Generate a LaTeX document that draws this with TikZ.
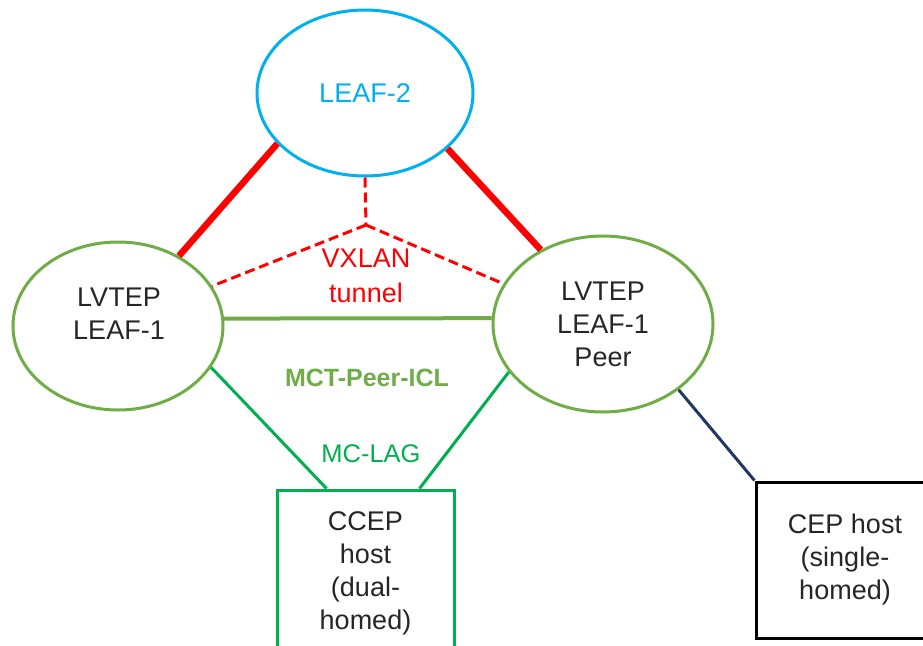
\documentclass[tikz,border=0pt]{standalone}
\usepackage{fontspec}
\setmainfont{Liberation Sans}
\usetikzlibrary{shapes.geometric}
\definecolor{leafblue}{HTML}{00B0F0}
\definecolor{leafgreen}{HTML}{70AD47}
\definecolor{lagreen}{HTML}{00B050}
\definecolor{navyline}{HTML}{1F3864}
\definecolor{txtgray}{HTML}{262626}
\begin{document}
\begin{tikzpicture}[x=1pt,y=-1pt,
  bigtext/.style={font=\fontsize{27}{33}\selectfont, align=center, text=txtgray},
  ell/.style={ellipse, draw=leafgreen, line width=3pt, inner sep=0pt, fill=white},
  hostbox/.style={rectangle, line width=3pt, inner sep=0pt, bigtext, fill=white},
  redthick/.style={draw=red, line width=6.5pt},
  reddash/.style={draw=red, line width=3pt, dash pattern=on 10pt off 5pt},
  icl/.style={draw=leafgreen, line width=4pt},
  lag/.style={draw=lagreen, line width=3pt},
  navy/.style={draw=navyline, line width=3pt}]
\useasboundingbox (0,0) rectangle (923,645);
\clip (0,0) rectangle (923,645);
\fill[white] (0,0) rectangle (923,645);
% nodes
\node[ell, draw=leafblue, minimum width=216, minimum height=166,
      font=\fontsize{27}{33}\selectfont, text=leafblue] (leaf2) at (365,93) {LEAF-2};
\node[ell, minimum width=210, minimum height=168] (leaf1) at (118,326) {};
\node[bigtext] (leaf1text) at (119,314) {LVTEP\\LEAF-1};
\node[ell, minimum width=220, minimum height=176, bigtext] (peer) at (603,324) {LVTEP\\LEAF-1\\Peer};
\node[hostbox, draw=lagreen, minimum width=177, minimum height=166] (ccep) at (365.5,573) {CCEP\\host\\(dual-\\homed)};
\node[hostbox, draw=black, minimum width=178, minimum height=156] (cep) at (845,560) {CEP host\\(single-\\homed)};
% connectors
\draw[redthick] (leaf1.49) -- (leaf2.-150.6);
\draw[redthick] (leaf2.-34.8) -- (peer.130);
\coordinate (vx) at (366,225);
\draw[reddash] (leaf2.south) -- (vx);
\draw[reddash] (vx) -- (leaf1.23);
\draw[reddash] (vx) -- (peer.158.7);
\draw[icl] (leaf1.4) -- (peer.177);
\draw[lag] (leaf1.-24) -- ([xshift=51]ccep.north west);
\draw[lag] (peer.-153) -- ([xshift=-36]ccep.north east);
\draw[navy] (peer.-41) -- (cep.north west);
% labels
\node[font=\fontsize{27}{35}\selectfont, text=red, align=center] (vxlab) at (366,276) {VXLAN\\tunnel};
\node[font=\bfseries\fontsize{25}{30}\selectfont, text=leafgreen] (icllab) at (367,378) {MCT-Peer-ICL};
\node[font=\fontsize{25.5}{30}\selectfont, text=lagreen] (laglab) at (371,454) {MC-LAG};
\end{tikzpicture}
\end{document}
